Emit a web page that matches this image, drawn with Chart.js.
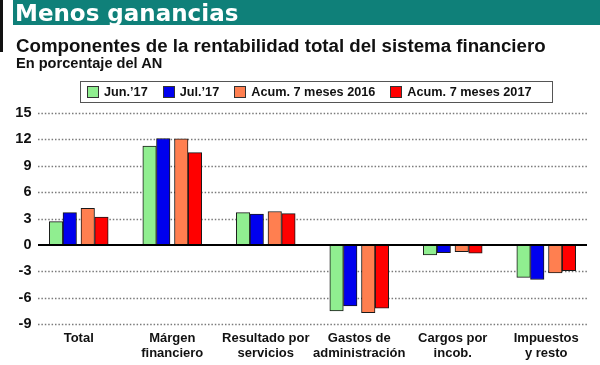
<!DOCTYPE html>
<html>
<head>
<meta charset="utf-8">
<script src="https://cdn.jsdelivr.net/npm/chart.js@4"></script>
<style>
  html, body { margin: 0; padding: 0; background: #fff; }
  #wrap { position: relative; width: 600px; height: 365px; overflow: hidden; background: #fff; }
  #chart { position: absolute; left: 0; top: 0; }
  .leftbar { position: absolute; left: 0; top: 0; width: 3px; height: 52px; background: #111; }
  .band { position: absolute; left: 13px; top: 0; right: 0; height: 25px; background: #0f8079; }
  .band span { position: absolute; left: 2px; top: 1.5px; font: bold 23px/23px "DejaVu Sans", sans-serif; color: #fff; white-space: nowrap; }
  .title { position: absolute; left: 16px; top: 37px; font: bold 18.7px/18.7px "Liberation Sans", Arial, sans-serif; color: #111; white-space: nowrap; }
  .subtitle { position: absolute; left: 16px; top: 55.5px; font: bold 14.6px/14.6px "Liberation Sans", Arial, sans-serif; color: #111; white-space: nowrap; }
  #legend { position: absolute; left: 80px; top: 81px; width: 465px; height: 20px; border: 1.5px solid #555;
            display: flex; align-items: center; padding-left: 6px; box-sizing: content-box;
            font: bold 12.7px "Liberation Sans", Arial, sans-serif; color: #111; }
  #legend .item { display: flex; align-items: center; margin-right: 15px; white-space: nowrap; }
  #legend .sw { width: 10px; height: 10px; border: 1px solid #333; margin-right: 5px; }
</style>
</head>
<body>
<div id="wrap">
  <canvas id="chart" width="600" height="365"></canvas>
  <div class="leftbar"></div>
  <div class="band"><span>Menos ganancias</span></div>
  <div class="title">Componentes de la rentabilidad total del sistema financiero</div>
  <div class="subtitle">En porcentaje del AN</div>
  <div id="legend"></div>
</div>
<script>
Chart.defaults.animation = false;

// --- Data ---
const categories = [
  'Total',
  ['Márgen', 'financiero'],
  ['Resultado por', 'servicios'],
  ['Gastos de', 'administración'],
  ['Cargos por', 'incob.'],
  ['Impuestos', 'y resto']
];
const seriesNames = ['Jun.’17', 'Jul.’17', 'Acum. 7 meses 2016', 'Acum. 7 meses 2017'];
const jun17 = [2.65, 11.25, 3.67, -7.5, -1.14, -3.7];
const jul17 = [3.67, 12.1, 3.5, -6.93, -0.9, -3.94];
const acum2016 = [4.17, 12.05, 3.8, -7.7, -0.76, -3.2];
const acum2017 = [3.15, 10.5, 3.55, -7.2, -0.95, -2.92];
const yTicks = [15, 12, 9, 6, 3, 0, -3, -6, -9];

const seriesColors = ['#90ee90', '#0000ee', '#ff7f50', '#ff0000'];
// barThickness sets each bar's slot (its centre); maxBarThickness its drawn width.
// Slots 15.1 / 18 / 18 / 15.1 give two touching pairs with a small gap between them.
const slotWidths = [15.13, 18, 18, 15.13];

// --- Legend (HTML box) ---
const legendEl = document.getElementById('legend');
seriesNames.forEach((name, i) => {
  const item = document.createElement('div');
  item.className = 'item';
  const sw = document.createElement('span');
  sw.className = 'sw';
  sw.style.background = seriesColors[i];
  const txt = document.createElement('span');
  txt.textContent = name;
  item.appendChild(sw);
  item.appendChild(txt);
  legendEl.appendChild(item);
});

// --- Dotted grid + zero line ---
const gridPlugin = {
  id: 'dottedGrid',
  beforeDatasetsDraw(chart) {
    const { ctx, chartArea, scales: { y } } = chart;
    const x0 = chartArea.left + 6, x1 = chartArea.right - 6;
    ctx.save();
    ctx.strokeStyle = '#7a7a7a';
    ctx.lineWidth = 1.3;
    ctx.setLineDash([1.5, 1.9]);
    yTicks.forEach(v => {
      if (v === 0) return;
      const py = Math.round(y.getPixelForValue(v)) + 0.5;
      ctx.beginPath();
      ctx.moveTo(x0, py);
      ctx.lineTo(x1, py);
      ctx.stroke();
    });
    ctx.restore();
  },
  afterDatasetsDraw(chart) {
    const { ctx, chartArea, scales: { y } } = chart;
    const py = Math.round(y.getPixelForValue(0));
    ctx.save();
    ctx.strokeStyle = '#000';
    ctx.lineWidth = 2;
    ctx.beginPath();
    ctx.moveTo(chartArea.left + 6, py);
    ctx.lineTo(chartArea.right - 6, py);
    ctx.stroke();
    ctx.restore();
  }
};

const seriesData = [jun17, jul17, acum2016, acum2017];

new Chart(document.getElementById('chart').getContext('2d'), {
  type: 'bar',
  data: {
    labels: categories,
    datasets: seriesData.map((d, i) => ({
      label: seriesNames[i],
      data: d,
      backgroundColor: seriesColors[i],
      borderColor: '#1a1a1a',
      borderWidth: 1,
      borderSkipped: false,
      barThickness: slotWidths[i],
      maxBarThickness: 13.5
    }))
  },
  options: {
    responsive: false,
    devicePixelRatio: 1,
    layout: { padding: { top: 113, right: 7, left: 0, bottom: 0 } },
    plugins: {
      legend: { display: false },
      title: { display: false },
      tooltip: { enabled: false }
    },
    scales: {
      x: {
        grid: { display: false, drawTicks: false },
        border: { display: false },
        afterFit: (s) => { s.height = 41; },
        ticks: {
          color: '#111',
          padding: 7,
          maxRotation: 0,
          autoSkip: false,
          font: { family: '"Liberation Sans", Arial, sans-serif', size: 13, weight: 'bold', lineHeight: 1.15 }
        }
      },
      y: {
        min: yTicks[yTicks.length - 1],
        max: yTicks[0],
        grid: { display: false, drawTicks: false },
        border: { display: false },
        afterFit: (s) => { s.width = 32; },
        ticks: {
          stepSize: yTicks[0] - yTicks[1],
          color: '#111',
          padding: 0.5,
          font: { family: '"Liberation Sans", Arial, sans-serif', size: 14.5, weight: 'bold' }
        }
      }
    }
  },
  plugins: [gridPlugin]
});
</script>
</body>
</html>
